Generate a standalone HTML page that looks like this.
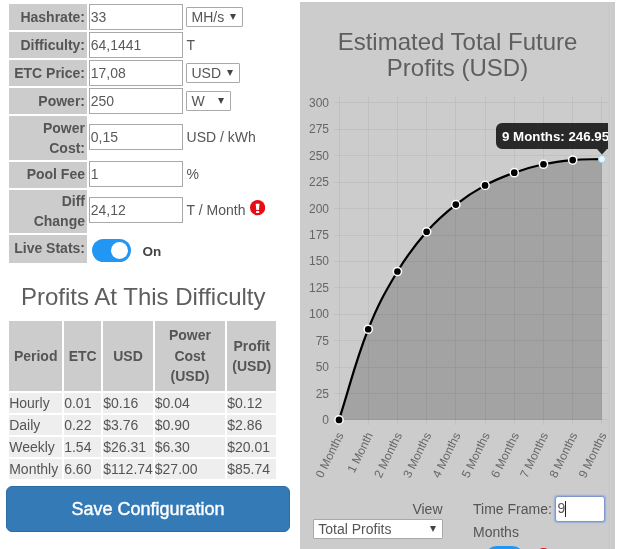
<!DOCTYPE html>
<html><head><meta charset="utf-8"><title>ETC Mining Calculator</title>
<style>
html,body{margin:0;padding:0;background:#fff;}
body{width:621px;height:549px;overflow:hidden;position:relative;font-family:"Liberation Sans",Arial,sans-serif;font-size:14px;color:#555;}
.form{position:absolute;left:7px;top:2px;border-collapse:separate;border-spacing:2px;}
.form td{padding:0;vertical-align:middle;height:26px;}
.form td.l{background:#ccc;width:76px;padding-right:2px;text-align:right;font-weight:bold;color:#555;line-height:20px;}
.form td.i{width:95px;}
.form td.u{padding-left:0;white-space:nowrap;}
.form td.t{padding-left:0.6px}
.up{position:relative;top:-0.7px}
.inp{display:block;box-sizing:border-box;width:94px;height:26px;border:1px solid #a9a9a9;background:#fff;padding:0 2px 0 0.8px;line-height:24px;color:#5a5a5a;font-size:14px;}
.sel{display:block;position:relative;box-sizing:border-box;height:20px;border:1px solid #a9a9a9;background:#fff;line-height:18px;padding:0 0 0 4.5px;color:#555;font-size:14px;border-radius:1px;}
.sel i{position:absolute;right:5.6px;top:6px;width:0;height:0;border-left:3.8px solid transparent;border-right:3.8px solid transparent;border-top:6px solid #444;}
.toggle{display:inline-block;width:39px;height:22.7px;border-radius:11.5px;background:#2196f3;position:relative;vertical-align:middle;}
.toggle:after{content:"";position:absolute;right:3px;top:3px;width:16.6px;height:16.6px;border-radius:8.5px;background:#fff;}
h2{position:absolute;margin:0;font-weight:normal;color:#5e5e5e;font-size:23px;line-height:26px;text-align:center;}
.pt{position:absolute;left:7.2px;top:319px;width:271.2px;table-layout:fixed;border-collapse:separate;border-spacing:2px;font-size:14px;color:#555;}
.pt th{background:#ccc;font-weight:bold;padding:0;height:69.6px;line-height:20.3px;text-align:center;}
.pt td{background:#eee;padding:0;height:20.2px;line-height:20px;white-space:nowrap;}
.btn{position:absolute;box-sizing:border-box;left:6px;top:485.7px;width:284px;height:46px;border-radius:6px;background:#337ab7;border:1px solid #2e6da4;color:#fff;font-size:18px;text-align:center;line-height:45px;-webkit-text-stroke:0.4px #fff;}
.panel{position:absolute;left:300px;top:2px;width:315px;height:560px;background:#ccc;}
.chart{position:absolute;left:300px;top:90px;}
.rl{position:absolute;color:#555;font-size:14px;}
</style></head><body>
<table class="form">
<tr><td class="l">Hashrate:</td><td class="i"><span class="inp">33</span></td><td class="u"><span class="sel" style="width:57px">MH/s<i></i></span></td></tr>
<tr><td class="l">Difficulty:</td><td class="i"><span class="inp">64,1441</span></td><td class="u t">T</td></tr>
<tr><td class="l">ETC Price:</td><td class="i"><span class="inp">17,08</span></td><td class="u"><span class="sel" style="width:54px">USD<i></i></span></td></tr>
<tr><td class="l">Power:</td><td class="i"><span class="inp">250</span></td><td class="u"><span class="sel" style="width:45px">W<i></i></span></td></tr>
<tr><td class="l" style="height:43.6px">Power Cost:</td><td class="i"><span class="inp up">0,15</span></td><td class="u t"><span class="up">USD / kWh</span></td></tr>
<tr><td class="l"><span class="up">Pool Fee</span></td><td class="i"><span class="inp up">1</span></td><td class="u t"><span class="up">%</span></td></tr>
<tr><td class="l" style="height:43px">Diff Change</td><td class="i"><span class="inp up">24,12</span></td><td class="u t"><span class="up">T / Month</span></td></tr>
<tr><td class="l" style="height:28px"><span class="up">Live Stats:</span></td><td class="i" colspan="2"></td></tr>
</table>
<svg style="position:absolute;left:249.8px;top:200.2px" width="15.2" height="15.4" viewBox="0 0 15 15"><circle cx="7.5" cy="7.5" r="7.5" fill="#e60d14"/><path d="M5.6 3.6 h3.8 l-0.6 6.2 h-2.6 z" fill="#fff"/><rect x="5.9" y="10.7" width="3.2" height="2" rx="0.4" fill="#fff"/></svg>
<span class="toggle" style="position:absolute;left:92px;top:239px"></span><b style="position:absolute;left:142.4px;top:244.3px;font-size:13.5px;line-height:15px;color:#444">On</b>
<h2 style="left:0;top:284px;width:286.5px;font-size:24px;">Profits At This Difficulty</h2>
<table class="pt"><colgroup><col style="width:53px"><col style="width:37.1px"><col style="width:49.5px"><col style="width:70.4px"><col style="width:49.2px"></colgroup>
<tr><th>Period</th><th>ETC</th><th>USD</th><th>Power<br>Cost<br>(USD)</th><th>Profit<br>(USD)</th></tr>
<tr><td>Hourly</td><td>0.01</td><td>$0.16</td><td>$0.04</td><td>$0.12</td></tr>
<tr><td>Daily</td><td>0.22</td><td>$3.76</td><td>$0.90</td><td>$2.86</td></tr>
<tr><td>Weekly</td><td>1.54</td><td>$26.31</td><td>$6.30</td><td>$20.01</td></tr>
<tr><td>Monthly</td><td>6.60</td><td>$112.74</td><td>$27.00</td><td>$85.74</td></tr>
</table>
<div class="btn">Save Configuration</div>
<div class="panel"></div>
<div style="position:absolute;left:608px;top:2px;width:2px;height:560px;background:#c9c9c9"></div><div style="position:absolute;left:610px;top:2px;width:1px;height:560px;background:#cecece"></div><div style="position:absolute;left:611px;top:2px;width:4px;height:560px;background:#cbcbcb"></div>
<h2 style="left:300px;top:29px;width:315px;font-size:24px;">Estimated Total Future<br>Profits (USD)</h2>
<svg class="chart" width="308" height="400" viewBox="300 90 308 400">
<g stroke="#000" stroke-opacity="0.05" stroke-width="1" shape-rendering="crispEdges"><line x1="333.5" x2="608" y1="419.5" y2="419.5"/><line x1="333.5" x2="608" y1="393.5" y2="393.5"/><line x1="333.5" x2="608" y1="367.5" y2="367.5"/><line x1="333.5" x2="608" y1="340.5" y2="340.5"/><line x1="333.5" x2="608" y1="314.5" y2="314.5"/><line x1="333.5" x2="608" y1="287.5" y2="287.5"/><line x1="333.5" x2="608" y1="261.5" y2="261.5"/><line x1="333.5" x2="608" y1="235.5" y2="235.5"/><line x1="333.5" x2="608" y1="208.5" y2="208.5"/><line x1="333.5" x2="608" y1="182.5" y2="182.5"/><line x1="333.5" x2="608" y1="155.5" y2="155.5"/><line x1="333.5" x2="608" y1="129.5" y2="129.5"/><line x1="333.5" x2="608" y1="102.5" y2="102.5"/><line x1="339.5" x2="339.5" y1="97" y2="424.5"/><line x1="368.5" x2="368.5" y1="97" y2="424.5"/><line x1="397.5" x2="397.5" y1="97" y2="424.5"/><line x1="426.5" x2="426.5" y1="97" y2="424.5"/><line x1="455.5" x2="455.5" y1="97" y2="424.5"/><line x1="485.5" x2="485.5" y1="97" y2="424.5"/><line x1="514.5" x2="514.5" y1="97" y2="424.5"/><line x1="543.5" x2="543.5" y1="97" y2="424.5"/><line x1="572.5" x2="572.5" y1="97" y2="424.5"/><line x1="601.5" x2="601.5" y1="97" y2="424.5"/></g>
<path d="M339.00 419.90 C350.68 383.65 354.30 364.61 368.21 329.27 C377.67 305.24 384.16 293.63 397.42 271.49 C407.52 254.63 413.71 246.55 426.63 231.77 C437.08 219.81 443.39 214.50 455.84 204.62 C466.76 195.95 472.82 192.07 485.06 185.39 C496.19 179.31 502.31 177.04 514.27 172.72 C525.68 168.59 531.62 166.84 543.48 164.27 C554.99 161.77 560.95 161.09 572.69 160.04 C584.32 159.00 590.22 159.44 601.90 159.04 L601.90 419.90 L339.00 419.90 Z" fill="#000" fill-opacity="0.2"/>
<path d="M339.00 419.90 C350.68 383.65 354.30 364.61 368.21 329.27 C377.67 305.24 384.16 293.63 397.42 271.49 C407.52 254.63 413.71 246.55 426.63 231.77 C437.08 219.81 443.39 214.50 455.84 204.62 C466.76 195.95 472.82 192.07 485.06 185.39 C496.19 179.31 502.31 177.04 514.27 172.72 C525.68 168.59 531.62 166.84 543.48 164.27 C554.99 161.77 560.95 161.09 572.69 160.04 C584.32 159.00 590.22 159.44 601.90 159.04" fill="none" stroke="#000" stroke-width="2.2" stroke-linecap="butt"/>
<circle cx="339.00" cy="419.90" r="4.1" fill="#000" stroke="#fff" stroke-width="1.5"/>
<circle cx="368.21" cy="329.27" r="4.1" fill="#000" stroke="#fff" stroke-width="1.5"/>
<circle cx="397.42" cy="271.49" r="4.1" fill="#000" stroke="#fff" stroke-width="1.5"/>
<circle cx="426.63" cy="231.77" r="4.1" fill="#000" stroke="#fff" stroke-width="1.5"/>
<circle cx="455.84" cy="204.62" r="4.1" fill="#000" stroke="#fff" stroke-width="1.5"/>
<circle cx="485.06" cy="185.39" r="4.1" fill="#000" stroke="#fff" stroke-width="1.5"/>
<circle cx="514.27" cy="172.72" r="4.1" fill="#000" stroke="#fff" stroke-width="1.5"/>
<circle cx="543.48" cy="164.27" r="4.1" fill="#000" stroke="#fff" stroke-width="1.5"/>
<circle cx="572.69" cy="160.04" r="4.1" fill="#000" stroke="#fff" stroke-width="1.5"/>
<circle cx="601.90" cy="159.04" r="3.6" fill="#e8f7ff" stroke="#a8cfe0" stroke-width="1"/>
<g font-family="'Liberation Sans', Arial, sans-serif" font-size="12" fill="#666"><text x="329" y="423.9" text-anchor="end">0</text><text x="329" y="397.5" text-anchor="end">25</text><text x="329" y="371.1" text-anchor="end">50</text><text x="329" y="344.7" text-anchor="end">75</text><text x="329" y="318.3" text-anchor="end">100</text><text x="329" y="291.9" text-anchor="end">125</text><text x="329" y="265.4" text-anchor="end">150</text><text x="329" y="239.0" text-anchor="end">175</text><text x="329" y="212.6" text-anchor="end">200</text><text x="329" y="186.2" text-anchor="end">225</text><text x="329" y="159.8" text-anchor="end">250</text><text x="329" y="133.4" text-anchor="end">275</text><text x="329" y="107.0" text-anchor="end">300</text></g>
<g font-family="'Liberation Sans', Arial, sans-serif" font-size="11.9" fill="#666"><text transform="translate(340.2 433.0) rotate(-64.0)" text-anchor="end" dy="0.35em">0 Months</text><text transform="translate(369.4 433.0) rotate(-64.0)" text-anchor="end" dy="0.35em">1 Month</text><text transform="translate(398.6 433.0) rotate(-64.0)" text-anchor="end" dy="0.35em">2 Months</text><text transform="translate(427.8 433.0) rotate(-64.0)" text-anchor="end" dy="0.35em">3 Months</text><text transform="translate(457.0 433.0) rotate(-64.0)" text-anchor="end" dy="0.35em">4 Months</text><text transform="translate(486.3 433.0) rotate(-64.0)" text-anchor="end" dy="0.35em">5 Months</text><text transform="translate(515.5 433.0) rotate(-64.0)" text-anchor="end" dy="0.35em">6 Months</text><text transform="translate(544.7 433.0) rotate(-64.0)" text-anchor="end" dy="0.35em">7 Months</text><text transform="translate(573.9 433.0) rotate(-64.0)" text-anchor="end" dy="0.35em">8 Months</text><text transform="translate(603.1 433.0) rotate(-64.0)" text-anchor="end" dy="0.35em">9 Months</text></g>
<path d="M502 123 H608 V149 H607 L602 154.5 L597 149 H502 a6 6 0 0 1 -6 -6 V129 a6 6 0 0 1 6 -6 Z" fill="#000" fill-opacity="0.8"/>
<text x="502" y="141" font-family="'Liberation Sans', Arial, sans-serif" font-size="13.3" font-weight="bold" fill="#fff">9 Months: 246.95</text>
</svg>
<div class="rl" style="left:300px;top:500.7px;width:142.5px;text-align:right;">View</div>
<span class="sel" style="position:absolute;left:313px;top:519px;width:129.5px;padding:0 0 0 4.3px;">Total Profits<i></i></span>
<div class="rl" style="left:473px;top:500.8px;">Time Frame:</div>
<span style="position:absolute;box-sizing:border-box;left:554.6px;top:495.6px;width:50.2px;height:26px;border:1.6px solid #7d96cc;border-radius:3px;background:#fff;box-shadow:0 0 1.5px 0.5px rgba(110,150,230,0.55);"></span>
<span style="position:absolute;left:557.6px;top:500px;font-size:14px;line-height:16px;color:#555;">9</span>
<span style="position:absolute;left:565px;top:501px;width:1px;height:15.5px;background:#222;"></span>
<div class="rl" style="left:473px;top:524.3px;">Months</div>
<span style="position:absolute;left:484.6px;top:546.2px;width:39px;height:23px;border-radius:11.5px;background:#2196f3;"></span>
<span style="position:absolute;left:536px;top:548.4px;width:15px;height:15px;border-radius:50%;background:#e60d14;"></span>
</body></html>
